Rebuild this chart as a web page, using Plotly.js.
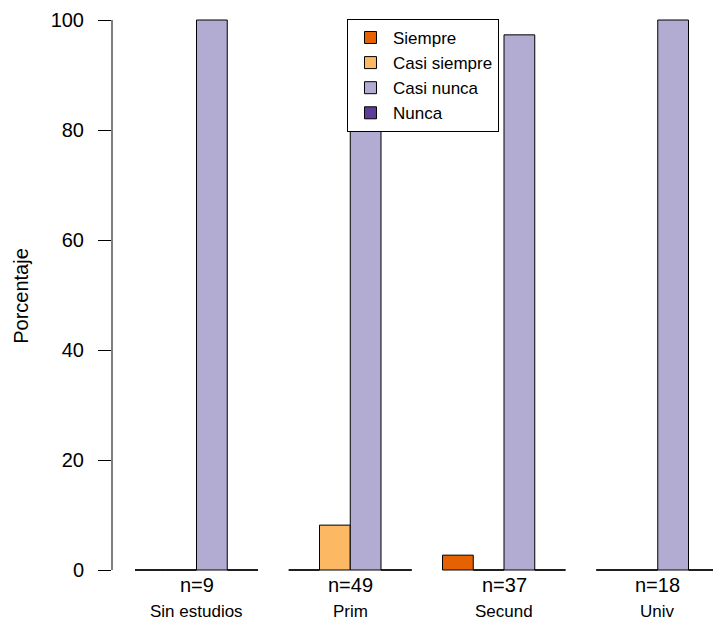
<!DOCTYPE html>
<html>
<head>
<meta charset="utf-8">
<script src="https://cdn.plot.ly/plotly-3.0.1.min.js"></script>
<style>html,body{margin:0;padding:0;background:#fff;}#chart{width:713px;height:623px;}</style>
</head>
<body>
<div id="chart"></div>
<script>
// ---- data ----
const categories = ['Sin estudios', 'Prim', 'Secund', 'Univ'];
const nLabels = ['n=9', 'n=49', 'n=37', 'n=18'];
const seriesNames = ['Siempre', 'Casi siempre', 'Casi nunca', 'Nunca'];
const siempre = [0, 0, 2.7, 0];
const casiSiempre = [0, 8.16, 0, 0];
const casiNunca = [100, 91.84, 97.3, 100];
const nunca = [0, 0, 0, 0];
const seriesColors = ['#E66101', '#FDB863', '#B2ABD2', '#5E3C99'];
const yTicks = [0, 20, 40, 60, 80, 100];

const FONT = 'Liberation Sans, Arial, Helvetica, sans-serif';
const allSeries = [siempre, casiSiempre, casiNunca, nunca];

const traces = allSeries.map((vals, j) => ({
  type: 'bar',
  name: seriesNames[j],
  x: categories,
  y: vals,
  marker: {color: seriesColors[j], line: {color: '#000', width: 1}},
  hoverinfo: 'x+y+name'
}));

// zero-height bars drawn as lines at baseline (as R does)
const nS = allSeries.length;
const groupW = 0.8, barW = groupW / nS;
const shapes = [];
allSeries.forEach((vals, j) => {
  vals.forEach((v, g) => {
    if (v === 0) {
      const x0 = g - groupW / 2 + j * barW;
      shapes.push({type: 'line', xref: 'x', yref: 'y', x0: x0, x1: x0 + barW, y0: 0, y1: 0,
        line: {color: '#000', width: 1}});
    }
  });
});
// y axis line spanning tick range only
shapes.push({type: 'line', xref: 'paper', yref: 'y', x0: 0, x1: 0,
  y0: yTicks[0], y1: yTicks[yTicks.length - 1], line: {color: '#000', width: 1}});

const annotations = [];
categories.forEach((c, g) => {
  annotations.push({xref: 'x', yref: 'paper', x: g, y: 0, yanchor: 'middle', yshift: 7,
    text: nLabels[g], showarrow: false, font: {family: FONT, size: 20, color: '#000'}});
  annotations.push({xref: 'x', yref: 'paper', x: g, y: 0, yanchor: 'middle', yshift: -19,
    text: c, showarrow: false, font: {family: FONT, size: 17, color: '#000'}});
});

const layout = {
  width: 713, height: 623,
  margin: {l: 112, r: 0, t: 0, b: 31, pad: 0},
  paper_bgcolor: '#fff', plot_bgcolor: '#fff',
  barmode: 'group', bargap: 0.2, bargroupgap: 0,
  font: {family: FONT, color: '#000'},
  showlegend: true,
  legend: {x: 0.391, y: 0.968, xanchor: 'left', yanchor: 'top',
    bgcolor: '#fff', bordercolor: '#000', borderwidth: 1,
    font: {family: FONT, size: 17, color: '#000'}, itemwidth: 35, traceorder: 'normal'},
  xaxis: {type: 'category', range: [-0.5496, 3.3593], showticklabels: false, ticks: '',
    showgrid: false, zeroline: false, showline: false, fixedrange: true},
  yaxis: {range: [-4, 103.636], tickvals: yTicks, ticktext: yTicks.map(String),
    ticks: 'outside', ticklen: 13, tickcolor: '#000', tickwidth: 1,
    ticklabelstandoff: 10,
    tickfont: {family: FONT, size: 20, color: '#000'},
    showgrid: false, zeroline: false, showline: false,
    title: {text: 'Porcentaje', font: {family: FONT, size: 20, color: '#000'}, standoff: 16}},
  shapes: shapes,
  annotations: annotations
};

Plotly.newPlot('chart', traces, layout, {displayModeBar: false, staticPlot: true});
</script>
</body>
</html>
